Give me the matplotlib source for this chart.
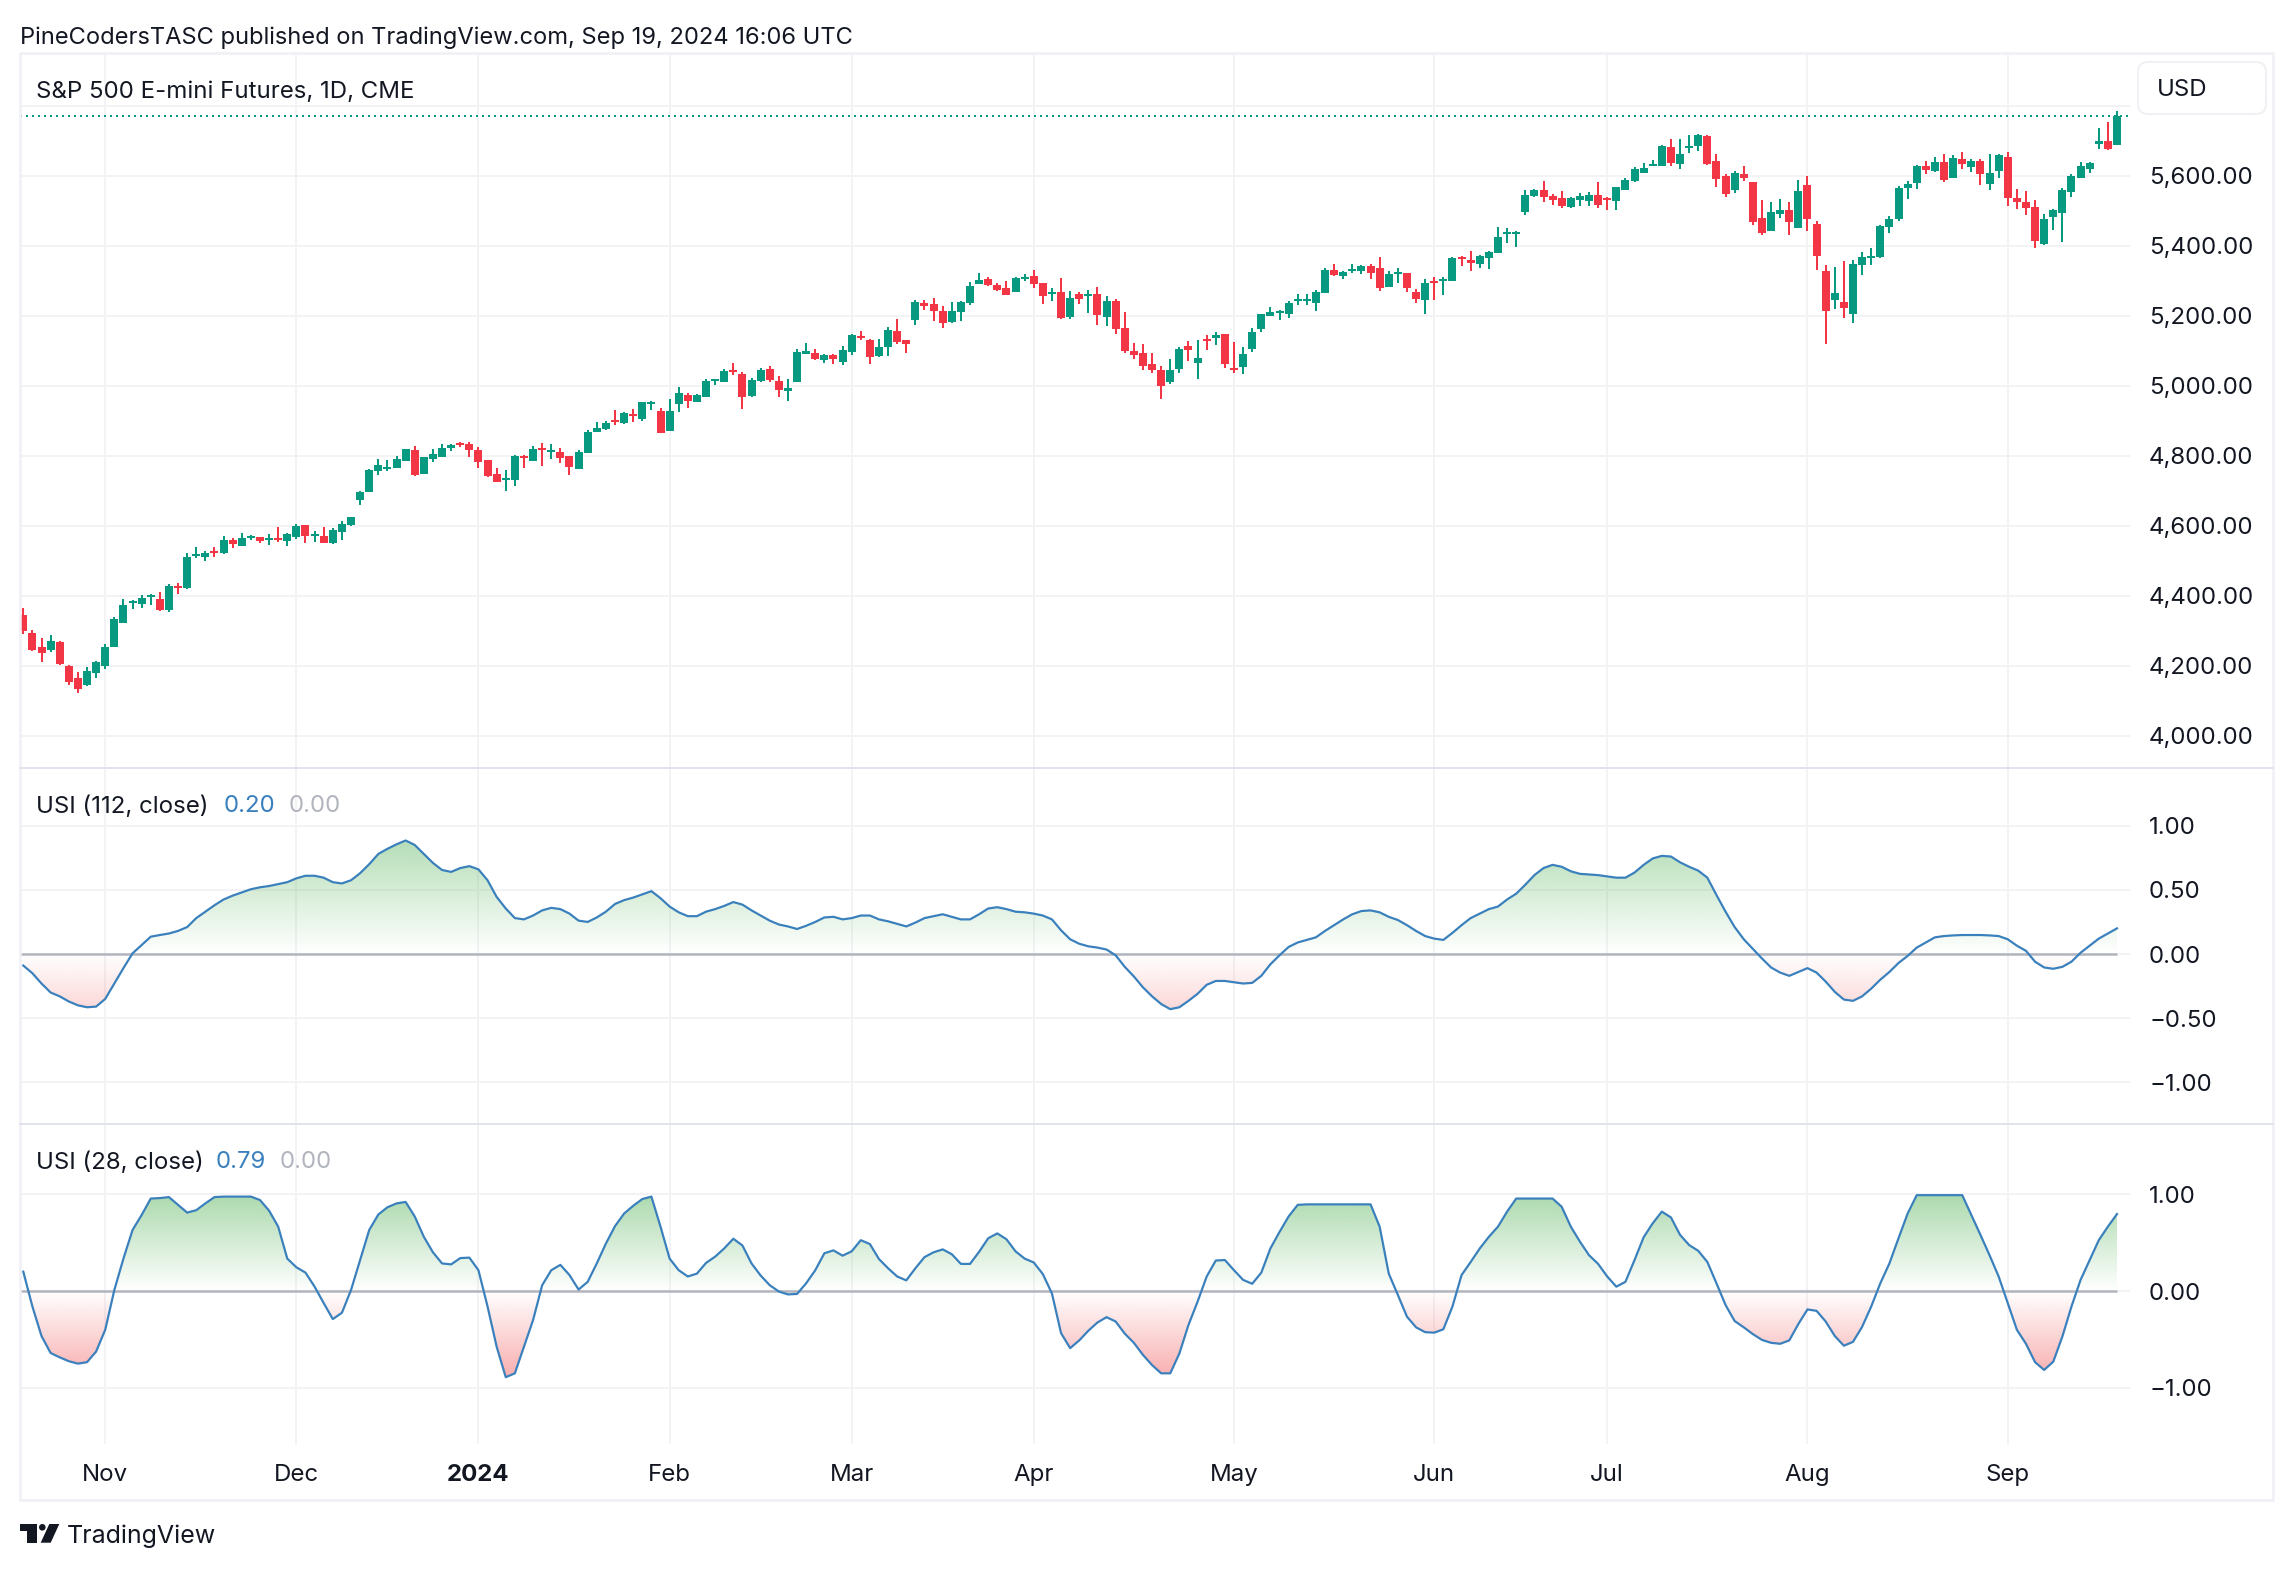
# -*- coding: utf-8 -*-

import numpy as np
from matplotlib import pyplot
from matplotlib.lines import Line2D
from matplotlib.patches import Circle, FancyBboxPatch, Polygon, Rectangle

WIDTH = 2294
HEIGHT = 1570
DPI = 100
UP = "#089981"
DOWN = "#F23645"
GRID = "#f3f3f5"
BORDER = "#f0f0f5"
SEPARATOR = "#e0e3eb"
TEXT = "#131722"
LINE = "#3a80bd"
ZERO = "#b2b5be"
FONT_SIZE = 17.3
HEADER_SIZE = 17.05

opens = [
    4346, 4294, 4254, 4246, 4269, 4200, 4166, 4146, 4180, 4200, 4254, 4323, 4380, 4377, 4397,
    4391, 4360, 4429, 4423, 4514, 4511, 4529, 4523, 4560, 4543, 4566, 4569, 4560, 4566, 4557,
    4569, 4603, 4571, 4571, 4551, 4583, 4603, 4674, 4697, 4757, 4763, 4766, 4786, 4817, 4748,
    4791, 4797, 4823, 4837, 4834, 4817, 4789, 4748, 4731, 4731, 4800, 4786, 4823, 4811, 4811,
    4800, 4763, 4809, 4869, 4877, 4903, 4894, 4920, 4906, 4949, 4929, 4871, 4949, 4974, 4954,
    4969, 5014, 5011, 5046, 5034, 4971, 5014, 5049, 5014, 4986, 5011, 5091, 5094, 5074, 5089,
    5069, 5097, 5143, 5131, 5086, 5111, 5157, 5131, 5189, 5237, 5234, 5214, 5183, 5211, 5237,
    5291, 5306, 5289, 5280, 5269, 5306, 5314, 5294, 5263, 5269, 5197, 5263, 5257, 5263, 5197,
    5243, 5166, 5100, 5094, 5063, 5046, 5011, 5049, 5114, 5066, 5134, 5137, 5149, 5051, 5054,
    5106, 5163, 5200, 5209, 5206, 5243, 5243, 5237, 5266, 5331, 5314, 5329, 5329, 5343, 5337,
    5283, 5320, 5323, 5269, 5246, 5300, 5300, 5300, 5369, 5360, 5349, 5366, 5380, 5434, 5434,
    5497, 5543, 5560, 5543, 5537, 5511, 5531, 5529, 5546, 5537, 5529, 5560, 5586, 5609, 5629,
    5629, 5683, 5634, 5680, 5686, 5714, 5643, 5600, 5560, 5606, 5583, 5480, 5443, 5491, 5503,
    5451, 5574, 5463, 5329, 5246, 5240, 5206, 5346, 5366, 5369, 5454, 5477, 5566, 5580, 5629,
    5614, 5640, 5594, 5649, 5626, 5643, 5577, 5614, 5654, 5537, 5526, 5511, 5406, 5483, 5494,
    5554, 5594, 5620, 5691, 5700, 5689,
]
highs = [
    4366, 4303, 4280, 4289, 4271, 4203, 4183, 4197, 4214, 4263, 4340, 4391, 4389, 4403, 4406,
    4411, 4434, 4437, 4523, 4540, 4529, 4540, 4571, 4566, 4580, 4574, 4569, 4577, 4597, 4580,
    4606, 4603, 4586, 4597, 4594, 4614, 4626, 4700, 4763, 4791, 4789, 4800, 4820, 4828, 4797,
    4820, 4834, 4834, 4840, 4840, 4826, 4789, 4766, 4760, 4803, 4803, 4829, 4837, 4834, 4823,
    4800, 4817, 4874, 4897, 4900, 4931, 4926, 4934, 4954, 4957, 4937, 4963, 4997, 4980, 4977,
    5020, 5020, 5049, 5066, 5040, 5023, 5051, 5057, 5029, 5020, 5106, 5123, 5106, 5091, 5091,
    5114, 5149, 5157, 5134, 5134, 5169, 5191, 5131, 5246, 5246, 5251, 5229, 5240, 5243, 5297,
    5323, 5311, 5294, 5300, 5311, 5320, 5331, 5294, 5280, 5309, 5271, 5269, 5274, 5283, 5257,
    5249, 5211, 5123, 5120, 5094, 5057, 5077, 5111, 5129, 5131, 5146, 5154, 5149, 5126, 5111,
    5166, 5206, 5226, 5217, 5243, 5263, 5263, 5274, 5337, 5349, 5329, 5349, 5346, 5349, 5369,
    5329, 5337, 5323, 5277, 5306, 5311, 5311, 5369, 5371, 5386, 5374, 5386, 5454, 5451, 5443,
    5560, 5563, 5586, 5549, 5557, 5540, 5551, 5554, 5583, 5540, 5569, 5594, 5626, 5637, 5646,
    5689, 5706, 5706, 5717, 5720, 5717, 5663, 5606, 5614, 5629, 5583, 5531, 5526, 5534, 5526,
    5589, 5600, 5471, 5346, 5340, 5357, 5360, 5383, 5394, 5460, 5486, 5571, 5586, 5631, 5643,
    5654, 5663, 5660, 5669, 5649, 5649, 5663, 5663, 5669, 5563, 5557, 5531, 5491, 5506, 5566,
    5606, 5640, 5640, 5737, 5754, 5785,
]
lows = [
    4291, 4243, 4211, 4240, 4203, 4146, 4123, 4143, 4166, 4191, 4254, 4323, 4363, 4366, 4374,
    4357, 4354, 4406, 4420, 4509, 4500, 4511, 4520, 4537, 4543, 4560, 4551, 4546, 4554, 4543,
    4563, 4551, 4554, 4551, 4549, 4560, 4600, 4660, 4697, 4746, 4757, 4766, 4786, 4743, 4748,
    4783, 4797, 4814, 4826, 4797, 4766, 4740, 4726, 4700, 4714, 4766, 4786, 4771, 4791, 4780,
    4746, 4763, 4809, 4869, 4874, 4889, 4891, 4897, 4900, 4931, 4866, 4871, 4926, 4937, 4954,
    4969, 5003, 5011, 5031, 4934, 4969, 5011, 5011, 4969, 4957, 5011, 5091, 5074, 5066, 5063,
    5060, 5089, 5131, 5063, 5083, 5086, 5120, 5094, 5174, 5217, 5186, 5166, 5180, 5186, 5231,
    5291, 5286, 5271, 5260, 5269, 5300, 5280, 5234, 5243, 5191, 5191, 5234, 5209, 5174, 5171,
    5149, 5094, 5077, 5046, 5037, 4963, 5006, 5037, 5071, 5020, 5103, 5117, 5051, 5037, 5034,
    5097, 5154, 5200, 5189, 5194, 5231, 5231, 5214, 5266, 5314, 5306, 5323, 5320, 5306, 5271,
    5283, 5294, 5269, 5237, 5206, 5246, 5260, 5300, 5343, 5329, 5337, 5334, 5380, 5409, 5397,
    5489, 5540, 5526, 5517, 5509, 5509, 5514, 5514, 5509, 5503, 5503, 5560, 5583, 5609, 5629,
    5629, 5629, 5620, 5666, 5671, 5631, 5569, 5540, 5551, 5586, 5460, 5431, 5443, 5480, 5431,
    5451, 5443, 5331, 5120, 5220, 5194, 5180, 5317, 5346, 5366, 5437, 5471, 5534, 5563, 5606,
    5611, 5583, 5594, 5620, 5611, 5574, 5560, 5594, 5514, 5506, 5489, 5394, 5403, 5446, 5411,
    5540, 5594, 5609, 5677, 5674, 5689,
]
closes = [
    4300, 4246, 4237, 4271, 4206, 4154, 4134, 4186, 4211, 4254, 4334, 4374, 4386, 4394, 4403,
    4360, 4429, 4423, 4511, 4520, 4523, 4523, 4560, 4549, 4566, 4571, 4557, 4566, 4560, 4577,
    4600, 4571, 4577, 4551, 4589, 4606, 4626, 4697, 4760, 4774, 4768, 4791, 4820, 4746, 4797,
    4806, 4823, 4831, 4831, 4817, 4783, 4743, 4726, 4737, 4800, 4794, 4820, 4817, 4817, 4794,
    4769, 4811, 4869, 4880, 4894, 4897, 4923, 4914, 4954, 4954, 4866, 4929, 4980, 4957, 4974,
    5014, 5020, 5043, 5040, 4969, 5017, 5046, 5017, 4989, 4994, 5097, 5100, 5077, 5089, 5077,
    5103, 5146, 5137, 5083, 5111, 5160, 5126, 5120, 5240, 5229, 5214, 5180, 5214, 5240, 5286,
    5303, 5289, 5274, 5260, 5309, 5311, 5291, 5257, 5269, 5194, 5251, 5249, 5263, 5203, 5243,
    5163, 5100, 5089, 5057, 5046, 5000, 5046, 5106, 5103, 5080, 5129, 5146, 5063, 5046, 5091,
    5154, 5206, 5211, 5214, 5237, 5249, 5249, 5269, 5331, 5317, 5326, 5334, 5343, 5323, 5280,
    5320, 5326, 5280, 5249, 5294, 5294, 5306, 5366, 5363, 5351, 5371, 5383, 5426, 5440, 5440,
    5546, 5560, 5540, 5531, 5514, 5537, 5543, 5546, 5517, 5531, 5569, 5589, 5620, 5623, 5634,
    5686, 5637, 5663, 5686, 5717, 5634, 5591, 5549, 5609, 5594, 5469, 5437, 5497, 5503, 5469,
    5557, 5477, 5371, 5214, 5266, 5223, 5349, 5369, 5371, 5457, 5477, 5566, 5577, 5629, 5617,
    5640, 5589, 5651, 5634, 5643, 5606, 5609, 5660, 5537, 5526, 5509, 5414, 5477, 5503, 5560,
    5600, 5629, 5637, 5700, 5677, 5771,
]

usi_112 = [
    -0.09, -0.15, -0.23, -0.30, -0.33, -0.37, -0.40, -0.415, -0.41, -0.35, -0.23, -0.11, 0.005,
    0.07, 0.135, 0.148, 0.16, 0.18, 0.21, 0.28, 0.33, 0.38, 0.425, 0.455, 0.48, 0.505, 0.52,
    0.53, 0.545, 0.56, 0.59, 0.61, 0.61, 0.595, 0.56, 0.55, 0.575, 0.63, 0.70, 0.78, 0.82,
    0.855, 0.885, 0.85, 0.78, 0.71, 0.655, 0.64, 0.67, 0.685, 0.66, 0.575, 0.445, 0.355, 0.28,
    0.27, 0.30, 0.34, 0.36, 0.35, 0.315, 0.26, 0.25, 0.285, 0.33, 0.39, 0.42, 0.44, 0.465,
    0.49, 0.435, 0.37, 0.325, 0.295, 0.295, 0.33, 0.35, 0.375, 0.405, 0.385, 0.34, 0.30, 0.26,
    0.23, 0.215, 0.195, 0.22, 0.25, 0.285, 0.29, 0.27, 0.28, 0.30, 0.30, 0.27, 0.255, 0.235,
    0.215, 0.245, 0.28, 0.295, 0.31, 0.29, 0.27, 0.27, 0.31, 0.355, 0.365, 0.35, 0.33, 0.325,
    0.315, 0.30, 0.27, 0.185, 0.115, 0.08, 0.06, 0.05, 0.035, -0.01, -0.10, -0.175, -0.26,
    -0.33, -0.39, -0.43, -0.415, -0.365, -0.31, -0.24, -0.21, -0.21, -0.22, -0.23, -0.225,
    -0.17, -0.08, -0.01, 0.055, 0.09, 0.11, 0.13, 0.18, 0.225, 0.27, 0.31, 0.335, 0.34, 0.325,
    0.29, 0.265, 0.225, 0.18, 0.14, 0.12, 0.11, 0.165, 0.225, 0.28, 0.315, 0.35, 0.37, 0.425,
    0.47, 0.54, 0.615, 0.67, 0.695, 0.68, 0.645, 0.625, 0.62, 0.615, 0.605, 0.595, 0.595,
    0.635, 0.695, 0.745, 0.765, 0.76, 0.715, 0.68, 0.65, 0.595, 0.46, 0.33, 0.21, 0.115, 0.04,
    -0.035, -0.105, -0.145, -0.17, -0.14, -0.11, -0.145, -0.215, -0.295, -0.355, -0.365, -0.33,
    -0.27, -0.20, -0.14, -0.07, -0.015, 0.05, 0.09, 0.13, 0.14, 0.145, 0.148, 0.148, 0.148,
    0.145, 0.14, 0.115, 0.065, 0.025, -0.06, -0.105, -0.115, -0.10, -0.06, 0.01, 0.065, 0.12,
    0.16, 0.20,
]
usi_28 = [
    0.20, -0.16, -0.465, -0.64, -0.685, -0.725, -0.75, -0.735, -0.625, -0.40, 0.01, 0.335, 0.63,
    0.785, 0.955, 0.96, 0.97, 0.89, 0.81, 0.835, 0.905, 0.97, 0.975, 0.975, 0.975, 0.975, 0.94,
    0.83, 0.665, 0.335, 0.245, 0.19, 0.045, -0.125, -0.29, -0.225, 0.01, 0.32, 0.63, 0.79,
    0.865, 0.905, 0.92, 0.77, 0.56, 0.40, 0.285, 0.275, 0.34, 0.345, 0.215, -0.16, -0.575,
    -0.89, -0.85, -0.575, -0.30, 0.06, 0.215, 0.27, 0.165, 0.015, 0.095, 0.285, 0.49, 0.67,
    0.80, 0.88, 0.95, 0.975, 0.665, 0.335, 0.215, 0.15, 0.18, 0.29, 0.355, 0.44, 0.54, 0.47,
    0.285, 0.16, 0.06, -0.005, -0.035, -0.03, 0.08, 0.215, 0.39, 0.42, 0.365, 0.41, 0.525,
    0.485, 0.33, 0.235, 0.15, 0.11, 0.235, 0.35, 0.40, 0.43, 0.38, 0.28, 0.28, 0.405, 0.545,
    0.595, 0.535, 0.41, 0.335, 0.295, 0.175, -0.025, -0.435, -0.59, -0.51, -0.41, -0.325,
    -0.27, -0.315, -0.44, -0.535, -0.66, -0.765, -0.85, -0.85, -0.645, -0.35, -0.11, 0.15,
    0.315, 0.32, 0.215, 0.115, 0.075, 0.19, 0.44, 0.61, 0.77, 0.89, 0.895, 0.895, 0.895, 0.895,
    0.895, 0.895, 0.895, 0.895, 0.665, 0.18, -0.04, -0.265, -0.375, -0.425, -0.43, -0.395,
    -0.16, 0.165, 0.30, 0.44, 0.56, 0.665, 0.82, 0.955, 0.955, 0.955, 0.955, 0.955, 0.87,
    0.665, 0.51, 0.37, 0.28, 0.15, 0.045, 0.095, 0.32, 0.555, 0.70, 0.82, 0.76, 0.58, 0.475,
    0.415, 0.30, 0.08, -0.145, -0.31, -0.375, -0.445, -0.505, -0.535, -0.545, -0.51, -0.34,
    -0.19, -0.205, -0.315, -0.465, -0.565, -0.525, -0.37, -0.16, 0.08, 0.285, 0.545, 0.80,
    0.99, 0.99, 0.99, 0.99, 0.99, 0.99, 0.785, 0.58, 0.37, 0.15, -0.125, -0.40, -0.545, -0.735,
    -0.815, -0.73, -0.47, -0.16, 0.115, 0.32, 0.525, 0.665, 0.795,
]

month_bars = [9, 30, 50, 71, 91, 111, 133, 155, 174, 196, 218]
month_labels = ["Nov", "Dec", "2024", "Feb", "Mar", "Apr", "May", "Jun", "Jul", "Aug", "Sep"]
price_grid = [4000, 4200, 4400, 4600, 4800, 5000, 5200, 5400, 5600, 5800]
price_ticks = [4000, 4200, 4400, 4600, 4800, 5000, 5200, 5400, 5600]
usi_112_ticks = [-1.0, -0.5, 0.0, 0.5, 1.0]
usi_28_ticks = [-1.0, 0.0, 1.0]

pyplot.rcParams["font.family"] = ["Inter", "DejaVu Sans"]
pyplot.rcParams["font.size"] = FONT_SIZE
pyplot.rcParams["text.color"] = TEXT

figure = pyplot.figure(figsize=(WIDTH / DPI, HEIGHT / DPI), dpi=DPI, facecolor="white")


def px(width):
    return width * 72.0 / DPI


def fig_x(x):
    return x / WIDTH


def fig_y(y):
    return 1.0 - y / HEIGHT


def add_text(x, y, text, color=TEXT, size=FONT_SIZE):
    figure.text(fig_x(x), fig_y(y), text, color=color, fontsize=size, ha="left", va="center_baseline")


def add_pane(top, bottom, y_limits, grid_values, tick_values, tick_format):
    left, right = 20, 2130
    axis = figure.add_axes([fig_x(left), fig_y(bottom), fig_x(right - left), (bottom - top) / HEIGHT])
    axis.set_facecolor("none")
    for spine in axis.spines.values():
        spine.set_visible(False)
    axis.set_xlim((left - 23.3) / 9.103, (right - 23.3) / 9.103)
    axis.set_ylim(*y_limits)
    axis.set_xticks(month_bars)
    axis.set_xticklabels([])
    axis.tick_params(axis="x", length=0)
    axis.yaxis.tick_right()
    axis.set_yticks(tick_values)
    axis.set_yticklabels([tick_format.format(v).replace("-", "\u2212") for v in tick_values])
    axis.tick_params(axis="y", length=0, pad=px(19), labelsize=FONT_SIZE, labelcolor=TEXT)
    for value in grid_values:
        axis.axhline(value, color=GRID, lw=px(2), zorder=0)
    for bar in month_bars:
        axis.axvline(bar, color=GRID, lw=px(2), zorder=0)
    return axis


def draw_usi(axis, values):
    x_data = np.arange(len(values))
    values = np.array(values)
    x_limits = axis.get_xlim()
    y_limits = axis.get_ylim()

    # gradient strength follows the distance from the zero line
    levels = np.linspace(1.0, -1.0, 401)
    gradient = np.zeros((len(levels), 1, 4))
    gradient[levels >= 0] = (76 / 255.0, 175 / 255.0, 80 / 255.0, 0)
    gradient[levels < 0] = (240 / 255.0, 60 / 255.0, 62 / 255.0, 0)
    gradient[:, 0, 3] = np.abs(levels) * 0.47

    area = axis.fill_between(x_data, 0, values, color="none")
    clip_path = area.get_paths()[0]
    area.remove()
    image = axis.imshow(gradient, extent=(x_limits[0], x_limits[1], -1.0, 1.0), aspect="auto", zorder=1)
    image.set_clip_path(clip_path, transform=axis.transData)
    axis.set_xlim(*x_limits)
    axis.set_ylim(*y_limits)

    axis.plot([x_limits[0], x_data[-1]], [0, 0], color=ZERO, lw=px(2.5), zorder=2, solid_capstyle="butt")
    axis.plot(x_data, values, color=LINE, lw=px(2.2), zorder=3)


# main pane
price_axis = add_pane(53, 768, (3907.7, 5950.6), price_grid, price_ticks, "{:,.2f}")
bars = np.arange(len(closes))
opens_arr = np.array(opens)
closes_arr = np.array(closes)
colors = [UP if c >= o else DOWN for o, c in zip(opens, closes)]
price_axis.vlines(bars, lows, highs, colors=colors, lw=px(2), zorder=2)
price_axis.bar(bars, np.abs(closes_arr - opens_arr), bottom=np.minimum(opens_arr, closes_arr),
               width=8.0 / 9.103, color=colors, linewidth=0, zorder=3)
price_axis.axhline(closes[-1], color=UP, lw=px(2), linestyle=(0, (1, 2)), zorder=1)

# indicator panes
usi_112_axis = add_pane(768, 1124, (-1.325, 1.45), usi_112_ticks, usi_112_ticks, "{:.2f}")
draw_usi(usi_112_axis, usi_112)

usi_28_axis = add_pane(1124, 1444, (-1.58, 1.725), usi_28_ticks, usi_28_ticks, "{:.2f}")
draw_usi(usi_28_axis, usi_28)

usi_28_axis.set_xticklabels(month_labels)
usi_28_axis.tick_params(axis="x", pad=px(20), labelsize=FONT_SIZE, labelcolor=TEXT)
usi_28_axis.get_xticklabels()[2].set_fontweight("bold")

# frame and separators
figure.add_artist(Rectangle((fig_x(20), fig_y(1500)), fig_x(2253), 1447.0 / HEIGHT, fill=False,
                            edgecolor=BORDER, lw=px(2.5), transform=figure.transFigure))
for y_sep in (768, 1124):
    figure.add_artist(Line2D([fig_x(20), fig_x(2273)], [fig_y(y_sep), fig_y(y_sep)], color=SEPARATOR,
                             lw=px(2), transform=figure.transFigure))

# texts
add_text(20, 35, "PineCodersTASC published on TradingView.com, Sep 19, 2024 16:06 UTC", size=HEADER_SIZE)
add_text(36, 89, "S&P 500 E-mini Futures, 1D, CME")
add_text(36, 804, "USI (112, close)")
add_text(224, 804, "0.20", color=LINE)
add_text(289, 804, "0.00", color=ZERO)
add_text(36, 1160, "USI (28, close)")
add_text(216, 1160, "0.79", color=LINE)
add_text(280, 1160, "0.00", color=ZERO)

# currency box, sized in pixels
box_axis = figure.add_axes([0, 0, 1, 1], facecolor="none")
box_axis.set_xlim(0, WIDTH)
box_axis.set_ylim(HEIGHT, 0)
box_axis.axis("off")
box_axis.add_patch(FancyBboxPatch((2144, 68), 116, 40, boxstyle="round,pad=6,rounding_size=10",
                                  facecolor="white", edgecolor=BORDER, lw=px(2)))
add_text(2157, 87, "USD")

# logo
logo = "#131722"
box_axis.add_patch(Polygon([(20, 1524), (36.7, 1524), (36.7, 1542.7), (27.3, 1542.7), (27.3, 1530.7), (20, 1530.7)],
                           facecolor=logo, lw=0))
box_axis.add_patch(Circle((42.3, 1527.3), 3.3, facecolor=logo, lw=0))
box_axis.add_patch(Polygon([(49.3, 1524), (59.3, 1524), (50.7, 1542.7), (40.7, 1542.7)], facecolor=logo, lw=0))
figure.text(fig_x(67), fig_y(1543), "TradingView", fontsize=18, color=logo, ha="left", va="baseline")

figure.savefig("out.png", dpi=DPI)
